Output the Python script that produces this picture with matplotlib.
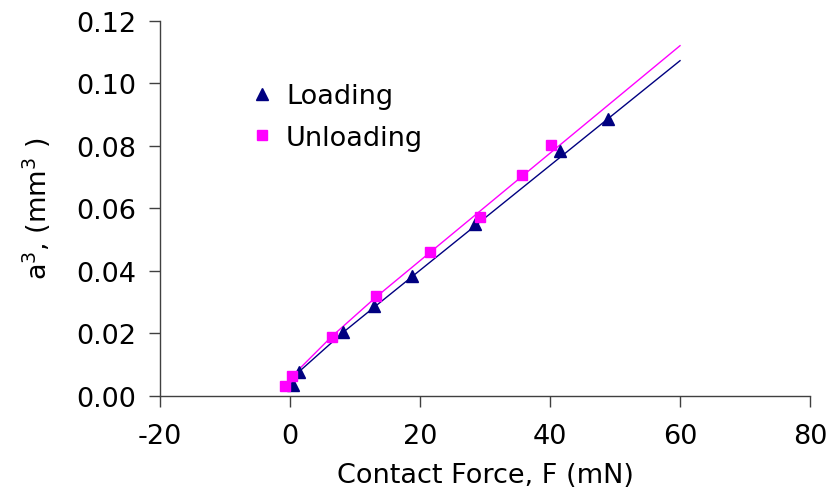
import matplotlib.pyplot as plt
from matplotlib.ticker import FormatStrFormatter

# measured points
load_F = [0.5, 1.4, 8.2, 12.9, 18.8, 28.5, 41.6, 48.9]
load_a3 = [0.0035, 0.0077, 0.0203, 0.0286, 0.0384, 0.0549, 0.0784, 0.0885]
unload_F = [-0.8, 0.3, 6.4, 13.2, 21.5, 29.3, 35.7, 40.2]
unload_a3 = [0.0032, 0.0062, 0.0189, 0.0320, 0.0461, 0.0572, 0.0707, 0.0801]

# fitted curves
load_fit_F = [1.4, 8.2, 13.0, 60.0]
load_fit_a3 = [0.0077, 0.0203, 0.0284, 0.1072]
unload_fit_F = [0.3, 6.4, 13.2, 60.0]
unload_fit_a3 = [0.0062, 0.0189, 0.0315, 0.1120]

navy = '#000080'
magenta = '#FF00FF'

plt.rcParams['font.family'] = ['DejaVu Sans']
plt.rcParams['axes.unicode_minus'] = False

fig = plt.figure(figsize=(8.32, 5.02), dpi=100)
ax = fig.add_axes([0.1923, 0.2098, 0.7813, 0.747])

ax.plot(load_fit_F, load_fit_a3, color=navy, lw=1.0)
ax.plot(unload_fit_F, unload_fit_a3, color=magenta, lw=1.0)
ax.plot(load_F, load_a3, '^', color=navy, ms=8.5, mec=navy, label='Loading', zorder=3)
ax.plot(unload_F, unload_a3, 's', color=magenta, ms=7.5, mec=magenta, label='Unloading', zorder=3)

ax.set_xlim(-20, 80)
ax.set_ylim(0, 0.12)
ax.set_xticks([-20, 0, 20, 40, 60, 80])
ax.set_yticks([0, 0.02, 0.04, 0.06, 0.08, 0.10, 0.12])
ax.yaxis.set_major_formatter(FormatStrFormatter('%.2f'))

for s in ['top', 'right']:
    ax.spines[s].set_visible(False)
for s in ['left', 'bottom']:
    ax.spines[s].set_color('#404040')
    ax.spines[s].set_linewidth(1.0)

ax.tick_params(direction='out', length=8, width=1, color='#404040',
               labelsize=19.5, pad=9)
ax.tick_params(axis='x', pad=12)

ax.set_xlabel('Contact Force, F (mN)', fontsize=19.5, labelpad=9)
ax.set_ylabel('a$^3$, (mm$^3$ )', fontsize=19.5, labelpad=17)

ax.legend(loc='upper left', bbox_to_anchor=(0.127, 0.862), frameon=False,
          fontsize=19.5, handlelength=0.6, handletextpad=0.6, labelspacing=0.58,
          borderaxespad=0)

fig.savefig('out.png', dpi=100)
